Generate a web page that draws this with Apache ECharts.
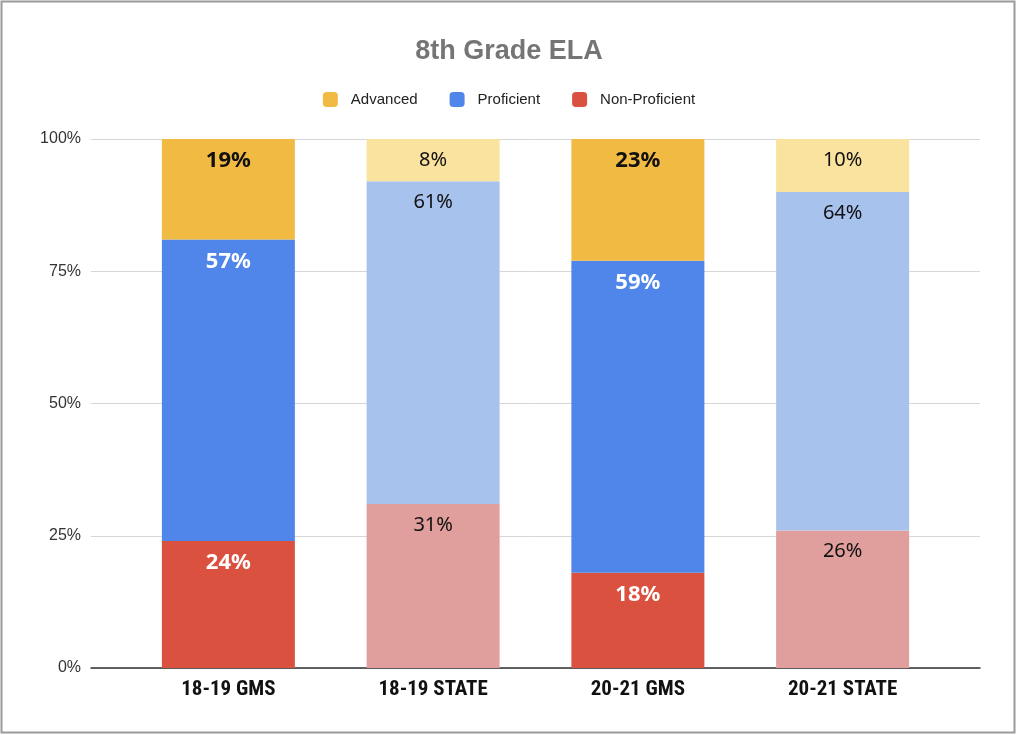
<!DOCTYPE html>
<html>
<head>
<meta charset="utf-8">
<script src="https://cdn.jsdelivr.net/npm/echarts@6/dist/echarts.min.js"></script>
<style>
  html, body { margin: 0; padding: 0; background: #fff; }
  #chart { width: 1018px; height: 735px; }
</style>
</head>
<body>
<div id="chart"></div>
<script>
// data
var categories = ['18-19 GMS', '18-19 STATE', '20-21 GMS', '20-21 STATE'];
var seriesNames = ['Advanced', 'Proficient', 'Non-Proficient'];
var nonProficient = [24, 31, 18, 26];
var proficient = [57, 61, 59, 64];
var advanced = [19, 8, 23, 10];
var yTicks = [0, 25, 50, 75, 100];
var isState = [false, true, false, true];

// colours: [strong, light]
var colors = {
  'Advanced': ['#F1BB43', '#F9E39F'],
  'Proficient': ['#5086EA', '#A8C2EE'],
  'Non-Proficient': ['#DB5140', '#E09E9C']
};

var labelFont = '"Noto Sans", "Open Sans", sans-serif';
var baseFont = '"Liberation Sans", Arial, sans-serif';

function buildData (name, values) {
  return values.map(function (v, i) {
    var state = isState[i];
    return {
      value: v,
      itemStyle: { color: colors[name][state ? 1 : 0] },
      label: {
        color: state ? '#111' : (name === 'Advanced' ? '#111' : '#fff'),
        fontWeight: state ? 'normal' : 'bold',
        fontSize: state ? 20 : 22
      }
    };
  });
}

function makeSeries (name, values) {
  return {
    name: name,
    type: 'bar',
    stack: 'total',
    xAxisIndex: 1,
    yAxisIndex: 1,
    barWidth: 133,
    data: buildData(name, values),
    label: {
      show: true,
      position: 'insideTop',
      distance: 11,
      fontFamily: labelFont,
      formatter: '{c}%'
    }
  };
}

var chart = echarts.init(document.getElementById('chart'));
var option = {
  animation: false,
  backgroundColor: '#fff',
  title: {
    text: '8th Grade ELA',
    left: 'center',
    top: 33,
    textStyle: { color: '#757575', fontSize: 27, fontWeight: 'bold', fontFamily: baseFont }
  },
  legend: {
    top: 87,
    left: 'center',
    data: seriesNames,
    icon: 'roundRect',
    itemWidth: 15,
    itemHeight: 15,
    itemGap: 32,
    textStyle: { color: '#222', fontSize: 15, fontFamily: baseFont, padding: [0, 0, 0, 8] }
  },
  grid: [
    { left: 91, right: 38, top: 139, bottom: 67 },
    { left: 126, right: 73, top: 139, bottom: 67 }
  ],
  xAxis: [
    {
      gridIndex: 0,
      type: 'category',
      data: [''],
      axisTick: { show: false },
      axisLabel: { show: false },
      axisLine: { lineStyle: { color: '#333', width: 1.5 } }
    },
    {
      gridIndex: 1,
      type: 'category',
      data: categories,
      axisTick: { show: false },
      axisLine: { show: false },
      axisLabel: {
        color: '#111',
        fontWeight: 'bold',
        fontSize: 21,
        margin: 11,
        fontFamily: '"Liberation Sans Narrow", "Roboto Condensed", Arial, sans-serif'
      }
    }
  ],
  yAxis: [
    {
      gridIndex: 0,
      type: 'value',
      min: yTicks[0],
      max: yTicks[yTicks.length - 1],
      interval: yTicks[1] - yTicks[0],
      axisLine: { show: false },
      axisTick: { show: false },
      axisLabel: { formatter: '{value}%', color: '#333', fontSize: 16, margin: 10, fontFamily: baseFont },
      splitLine: { lineStyle: { color: '#d6d6d6', width: 1 } }
    },
    {
      gridIndex: 1,
      type: 'value',
      min: 0,
      max: 100,
      show: false,
      splitLine: { show: false }
    }
  ],
  series: [
    makeSeries('Non-Proficient', nonProficient),
    makeSeries('Proficient', proficient),
    makeSeries('Advanced', advanced)
  ],
  graphic: [{
    type: 'rect',
    shape: { x: 1.5, y: 1.5, width: 1013, height: 731 },
    style: { fill: 'none', stroke: '#9a9a9a', lineWidth: 2 },
    silent: true
  }]
};
// legend swatch colours follow the strong colour
option.series.forEach(function (s) { s.color = colors[s.name][0]; });
chart.setOption(option);
</script>
</body>
</html>
